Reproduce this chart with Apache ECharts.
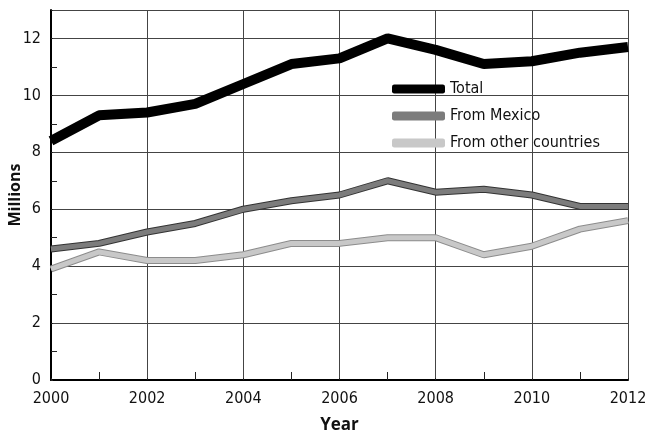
<!DOCTYPE html>
<html><head><meta charset="utf-8">
<script src="https://cdn.jsdelivr.net/npm/echarts@6/dist/echarts.min.js"></script>
<style>html,body{margin:0;padding:0;background:#fff}#c{width:648px;height:437px}</style>
</head><body><div id="c"></div>
<script>
var years = [2000,2001,2002,2003,2004,2005,2006,2007,2008,2009,2010,2011,2012];
var total = [8.4,9.3,9.4,9.7,10.4,11.1,11.3,12.0,11.6,11.1,11.2,11.5,11.7];
var mexico = [4.6,4.8,5.2,5.5,6.0,6.3,6.5,7.0,6.6,6.7,6.5,6.1,6.1];
var other = [3.9,4.5,4.2,4.2,4.4,4.8,4.8,5.0,5.0,4.4,4.7,5.3,5.6];
var seriesNames = ['Total','From Mexico','From other countries'];
var xTitle = 'Year', yTitle = 'Millions';

var F = '"Liberation Sans Narrow","DejaVu Sans Condensed",sans-serif';
function pts(arr){ return years.map(function(y,i){ return [y, arr[i]]; }); }
var chart = echarts.init(document.getElementById('c'));
chart.setOption({
  animation:false,
  grid:{left:51,right:20,top:10,bottom:57,outerBoundsMode:'none',containLabel:false},
  legend:{orient:'vertical',left:387,top:76,itemWidth:53,itemHeight:9,itemGap:11,icon:'roundRect',
    data:seriesNames,textStyle:{fontFamily:F,fontSize:16,color:'#111'}},
  xAxis:{type:'value',min:2000,max:2012,interval:2,name:xTitle,nameLocation:'middle',nameGap:37,
    nameTextStyle:{fontFamily:'"Open Sans",sans-serif',fontWeight:'bold',fontSize:17,color:'#111'},
    axisLine:{lineStyle:{color:'#000',width:2}},
    axisTick:{show:true,inside:true,length:2,lineStyle:{color:'#222'}},
    minorTick:{show:true,splitNumber:2,length:8,lineStyle:{color:'#222',width:1}},
    axisLabel:{fontFamily:F,fontSize:16,color:'#111',margin:11,formatter:function(v){return String(v);}},
    splitLine:{show:true,lineStyle:{color:'#444',width:1}}},
  yAxis:{type:'value',min:0,max:13,interval:2,name:yTitle,nameLocation:'middle',nameGap:28,nameRotate:90,
    nameMoveOverlap:false,
    nameTextStyle:{fontFamily:'"Open Sans",sans-serif',fontWeight:'bold',fontSize:16,color:'#111'},
    axisLine:{show:true,lineStyle:{color:'#000',width:2}},
    axisTick:{show:true,inside:true,length:2,lineStyle:{color:'#222'}},
    minorTick:{show:true,splitNumber:2,length:6,lineStyle:{color:'#222',width:1}},
    axisLabel:{fontFamily:F,fontSize:16,color:'#111',margin:10,showMaxLabel:false,
      formatter:function(v){return v%2===0?String(v):'';}},
    splitLine:{show:true,lineStyle:{color:'#444',width:1}}},
  series:[
    {name:seriesNames[0],type:'line',data:pts(total),symbol:'none',color:'#000',lineStyle:{width:10,color:'#000'},z:6},
    {name:seriesNames[1],type:'line',data:pts(mexico),symbol:'none',color:'#7c7c7c',lineStyle:{width:5,color:'#7c7c7c'},z:5},
    {name:'_mexOutline',type:'line',data:pts(mexico),symbol:'none',color:'#333',lineStyle:{width:7,color:'#333'},z:4},
    {name:seriesNames[2],type:'line',data:pts(other),symbol:'none',color:'#c8c8c8',lineStyle:{width:5,color:'#c8c8c8'},z:3},
    {name:'_othOutline',type:'line',data:pts(other),symbol:'none',color:'#888',lineStyle:{width:7,color:'#8c8c8c'},z:2}
  ]
});
</script></body></html>
